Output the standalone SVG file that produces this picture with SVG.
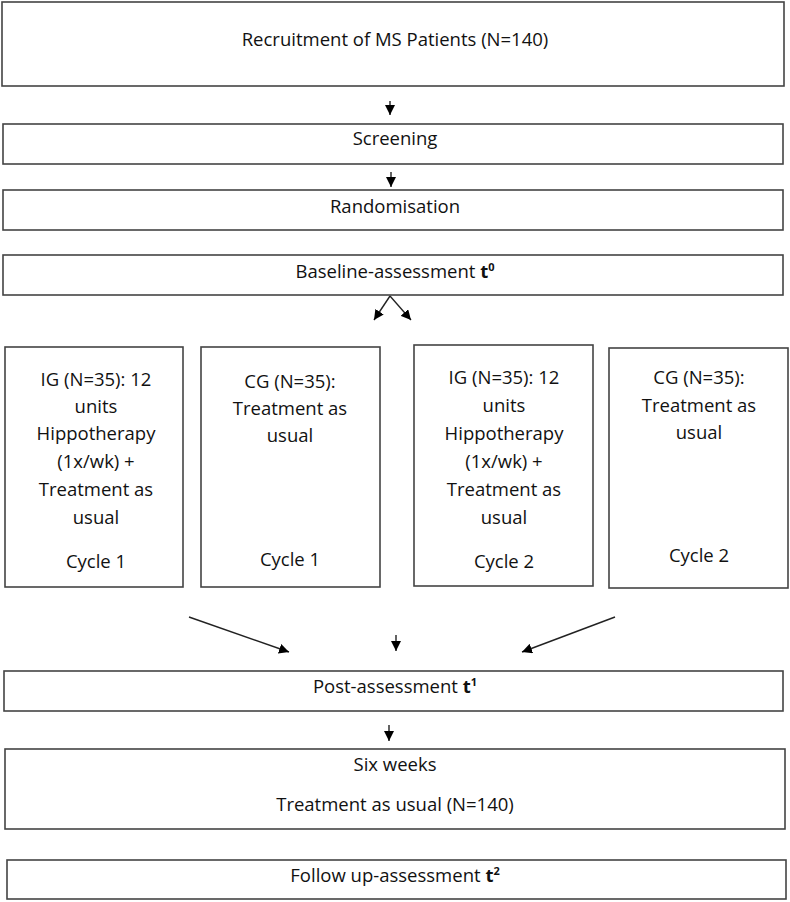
<svg xmlns="http://www.w3.org/2000/svg" width="790" height="902" viewBox="0 0 790 902">
<defs>
<marker id="ah" markerUnits="userSpaceOnUse" markerWidth="10" markerHeight="10" viewBox="0 0 10 10" refX="10" refY="5" orient="auto">
<path d="M0,0 L10,5 L0,10 z" fill="#000"/>
</marker>
<style>
.box{fill:#fff;stroke:#444;stroke-width:1.6}
text{font-family:"Open Sans","Liberation Sans",sans-serif;font-size:18.5px;fill:#111;text-anchor:middle}
.sup{font-size:11px;font-weight:bold}
.b{font-weight:bold}
.c line{stroke:#222;stroke-width:1.4;marker-end:url(#ah)}
</style>
</defs>
<rect width="790" height="902" fill="#fff"/>
<g id="recruitment"><rect class="box" x="2" y="2" width="782" height="84"/><text x="395" y="46">Recruitment of MS Patients (N=140)</text></g>
<g id="screening"><rect class="box" x="3" y="124" width="780" height="40"/><text x="395" y="145">Screening</text></g>
<g id="randomisation"><rect class="box" x="3" y="190" width="780" height="40"/><text x="395" y="213">Randomisation</text></g>
<g id="baseline"><rect class="box" x="3" y="255" width="780" height="40"/><text x="395" y="278">Baseline-assessment <tspan class="b">t</tspan><tspan class="sup" dy="-7">0</tspan></text></g>
<g id="ig1"><rect class="box" x="5" y="347" width="178" height="240"/>
<text x="96"><tspan x="96" y="386">IG (N=35): 12</tspan><tspan x="96" y="413">units</tspan><tspan x="96" y="440">Hippotherapy</tspan><tspan x="96" y="468">(1x/wk) +</tspan><tspan x="96" y="496">Treatment as</tspan><tspan x="96" y="524">usual</tspan><tspan x="96" y="568">Cycle 1</tspan></text></g>
<g id="cg1"><rect class="box" x="201" y="347" width="179" height="240"/>
<text x="290"><tspan x="290" y="388">CG (N=35):</tspan><tspan x="290" y="415">Treatment as</tspan><tspan x="290" y="442">usual</tspan><tspan x="290" y="566">Cycle 1</tspan></text></g>
<g id="ig2"><rect class="box" x="414" y="345" width="179" height="241"/>
<text x="504"><tspan x="504" y="384">IG (N=35): 12</tspan><tspan x="504" y="412">units</tspan><tspan x="504" y="440">Hippotherapy</tspan><tspan x="504" y="468">(1x/wk) +</tspan><tspan x="504" y="496">Treatment as</tspan><tspan x="504" y="524">usual</tspan><tspan x="504" y="568">Cycle 2</tspan></text></g>
<g id="cg2"><rect class="box" x="609" y="348" width="179" height="240"/>
<text x="699"><tspan x="699" y="384">CG (N=35):</tspan><tspan x="699" y="412">Treatment as</tspan><tspan x="699" y="439">usual</tspan><tspan x="699" y="562">Cycle 2</tspan></text></g>
<g id="post"><rect class="box" x="4" y="671" width="779" height="40"/><text x="395" y="693">Post-assessment <tspan class="b">t</tspan><tspan class="sup" dy="-7">1</tspan></text></g>
<g id="sixweeks"><rect class="box" x="5" y="749" width="780" height="80"/><text x="395" y="771">Six weeks</text><text x="395" y="811">Treatment as usual (N=140)</text></g>
<g id="followup"><rect class="box" x="7" y="860" width="779" height="39"/><text x="395" y="882">Follow up-assessment <tspan class="b">t</tspan><tspan class="sup" dy="-7">2</tspan></text></g>
<g id="connectors" class="c">
<line x1="390" y1="101" x2="390" y2="115"/>
<line x1="391" y1="172" x2="391" y2="187"/>
<line x1="390" y1="296" x2="374" y2="320"/>
<line x1="390" y1="296" x2="411" y2="320"/>
<line x1="189" y1="617" x2="289" y2="652"/>
<line x1="396" y1="635" x2="396" y2="651"/>
<line x1="615" y1="617" x2="522" y2="652"/>
<line x1="389" y1="725" x2="389" y2="741"/>
</g>
</svg>
